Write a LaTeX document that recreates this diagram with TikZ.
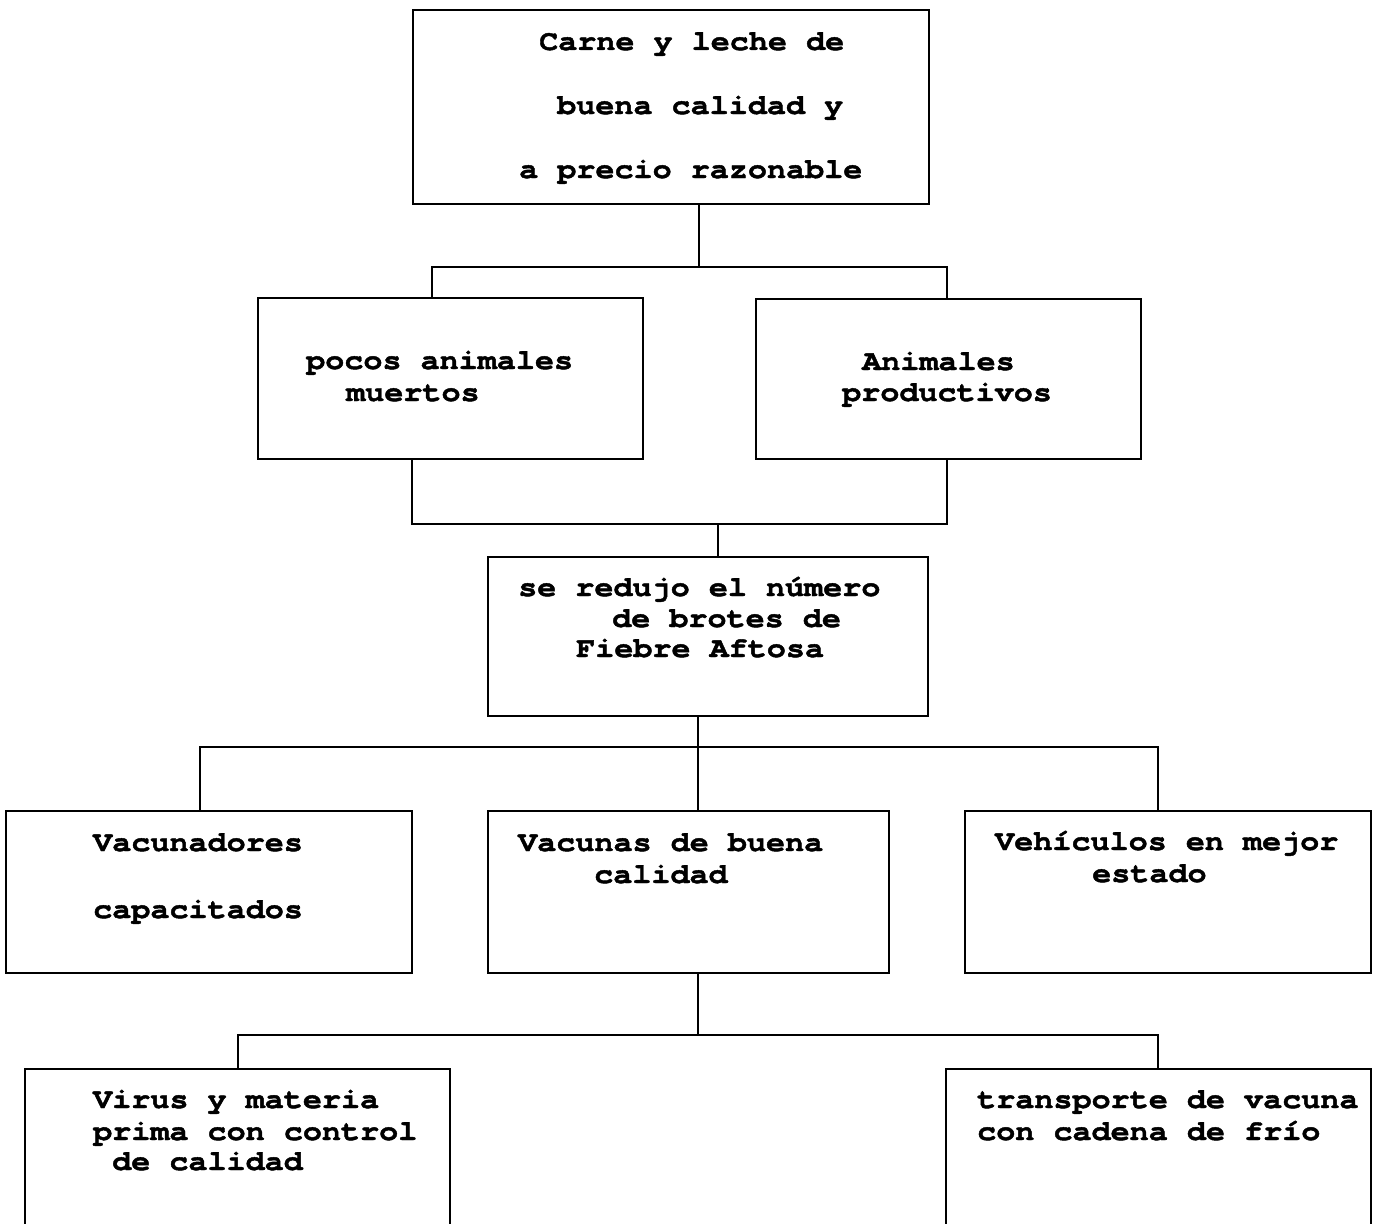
\documentclass[tikz,border=0pt]{standalone}
\usepackage{fontspec}
\newfontfamily\tfont[FakeStretch=1.115,FakeBold=1.5]{texgyrecursor-bold.otf}
\begin{document}
\begin{tikzpicture}[x=1pt,y=-1pt,
  box/.style={draw, line width=1.8pt, inner sep=0pt},
  conn/.style={line width=1.8pt},
  txt/.style={anchor=base west, inner sep=0pt, font=\tfont\fontsize{28.5}{32}\selectfont}]
\useasboundingbox (0,0) rectangle (1375,1223);
\clip (0,0) rectangle (1375,1223);
% boxes
\node[box, minimum width=516pt, minimum height=194pt] (top) at (671,107) {};
\node[box, minimum width=385pt, minimum height=161pt] (l1) at (450.5,378.5) {};
\node[box, minimum width=385pt, minimum height=160pt] (r1) at (948.5,379) {};
\node[box, minimum width=440pt, minimum height=159pt] (mid) at (708,636.5) {};
\node[box, minimum width=406pt, minimum height=162pt] (a) at (209,892) {};
\node[box, minimum width=401pt, minimum height=162pt] (b) at (688.5,892) {};
\node[box, minimum width=406pt, minimum height=162pt] (c) at (1168,892) {};
\node[box, minimum width=425pt, minimum height=191pt] (d) at (237.5,1164.5) {};
\node[box, minimum width=425pt, minimum height=191pt] (e) at (1158.5,1164.5) {};
% junctions
\coordinate (j1) at (699,267);
\coordinate (j2) at (718,524);
\coordinate (j3) at (698,747);
\coordinate (j4) at (698,1035);
% connectors
\draw[conn] (top.south -| j1) -- (j1);
\draw[conn] ([xshift=-18.5pt]l1.north) |- (j1) -| ([xshift=-1.5pt]r1.north);
\draw[conn] ([xshift=-38.5pt]l1.south) |- (j2) -| ([xshift=-1.5pt]r1.south);
\draw[conn] (j2) -- (j2 |- mid.north);
\draw[conn] (mid.south -| j3) -- (j3);
\draw[conn] ([xshift=-9pt]a.north) |- (j3) -| ([xshift=-10pt]c.north);
\draw[conn] (j3) -- (j3 |- b.north);
\draw[conn] (b.south -| j4) -- (j4);
\draw[conn] ([xshift=0.5pt]d.north) |- (j4) -| ([xshift=-0.5pt]e.north);
% texts
\node[txt] (t1) at (539,50) {Carne y leche de};
\node[txt] (t2) at (557,114) {buena calidad y};
\node[txt] (t3) at (519,178) {a precio razonable};
\node[txt] (t4) at (306,369) {pocos animales};
\node[txt] (t5) at (346,401) {muertos};
\node[txt] (t6) at (862,370) {Animales};
\node[txt] (t7) at (842,401) {productivos};
\node[txt] (t8) at (518,596) {se redujo el número};
\node[txt] (t9) at (612,627) {de brotes de};
\node[txt] (t10) at (576,657) {Fiebre Aftosa};
\node[txt] (t11) at (93,851) {Vacunadores};
\node[txt] (t12) at (93,918) {capacitados};
\node[txt] (t13) at (518,851) {Vacunas de buena};
\node[txt] (t14) at (594,883) {calidad};
\node[txt] (t15) at (995,850) {Vehículos en mejor};
\node[txt] (t16) at (1092,882) {estado};
\node[txt] (t17) at (93,1108) {Virus y materia};
\node[txt] (t18) at (93,1140) {prima con control};
\node[txt] (t19) at (112,1170) {de calidad};
\node[txt] (t20) at (977,1108) {transporte de vacuna};
\node[txt] (t21) at (977,1140) {con cadena de frío};
\end{tikzpicture}
\end{document}
